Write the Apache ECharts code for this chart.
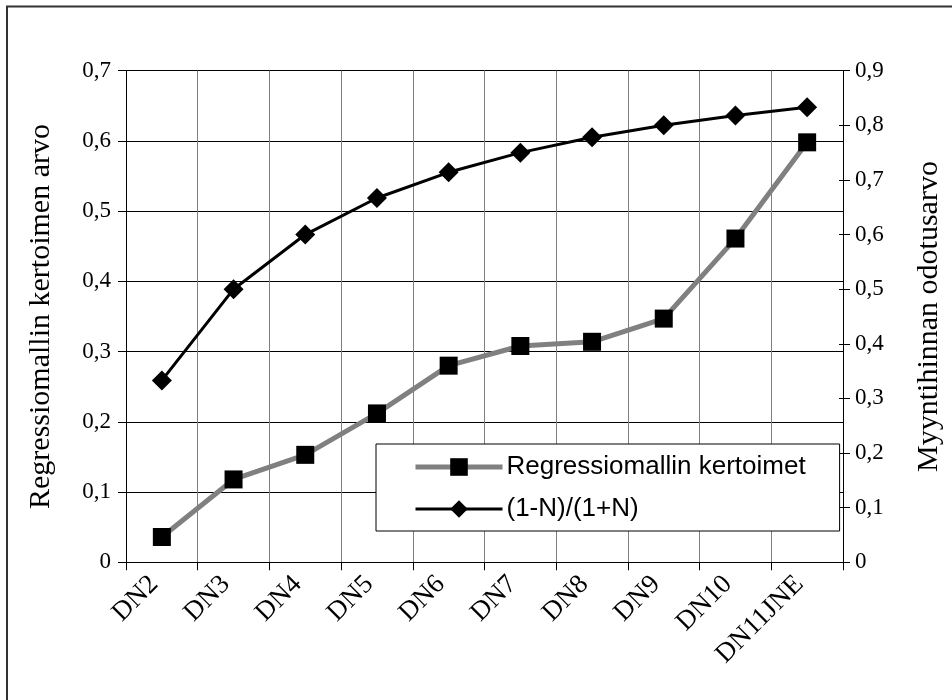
<!DOCTYPE html>
<html>
<head>
<meta charset="utf-8">
<script src="https://cdn.jsdelivr.net/npm/echarts@6/dist/echarts.min.js"></script>
<style>
  html, body { margin: 0; padding: 0; background: #fff; }
  #chart { width: 952px; height: 700px; }
</style>
</head>
<body>
<div id="chart"></div>
<script>
// Categories along the x axis
const categories = ['DN2', 'DN3', 'DN4', 'DN5', 'DN6', 'DN7', 'DN8', 'DN9', 'DN10', 'DN11JNE'];
// Regression coefficients (left axis)
const regressionValues = [0.036, 0.118, 0.153, 0.212, 0.280, 0.308, 0.314, 0.347, 0.461, 0.598];
// Expected sale price ratio (right axis)
const ratioValues = [0.333, 0.500, 0.600, 0.667, 0.714, 0.750, 0.778, 0.800, 0.818, 0.833];
// Axis ranges
const leftMax = 0.7;
const rightMax = 0.9;
const tickStep = 0.1;

const serif = 'Liberation Serif';
const sans = 'Liberation Sans';
const fmt = v => String(Math.round(v * 10) / 10).replace('.', ',');

const chart = echarts.init(document.getElementById('chart'), null, { renderer: 'canvas' });

chart.setOption({
  backgroundColor: '#fff',
  animation: false,
  graphic: [{
    type: 'polyline',
    shape: { points: [[7, 720], [7, 6.5], [970, 6.5]] },
    style: { stroke: '#333', lineWidth: 2, fill: null },
    silent: true
  }],
  grid: { left: 126, top: 70.7, right: 107.5, bottom: 137.7, containLabel: false },
  legend: {
    orient: 'vertical',
    left: 376,
    top: 444,
    padding: [10, 34, 9, 37],
    itemGap: 16,
    itemWidth: 87,
    itemHeight: 22,
    backgroundColor: '#fff',
    borderColor: '#000',
    borderWidth: 1,
    borderRadius: 0,
    textStyle: { fontFamily: sans, fontSize: 26, color: '#000', padding: [0, 0, 0, -1] },
    data: [
      { name: 'Regressiomallin kertoimet', lineStyle: { width: 5, color: '#808080' } },
      { name: '(1-N)/(1+N)', lineStyle: { width: 3, color: '#000' } }
    ]
  },
  xAxis: {
    type: 'category',
    data: categories,
    boundaryGap: true,
    axisLine: { lineStyle: { color: '#000', width: 1 } },
    axisTick: { show: true, length: 8, lineStyle: { color: '#000' } },
    splitLine: { show: true, lineStyle: { color: '#808080', width: 1 } },
    axisLabel: {
      rotate: 45,
      margin: 10,
      interval: 0,
      padding: [0, 11, 20, 0],
      fontFamily: serif,
      fontSize: 27,
      color: '#000'
    }
  },
  yAxis: [
    {
      type: 'value',
      position: 'left',
      min: 0,
      max: leftMax,
      interval: tickStep,
      name: 'Regressiomallin kertoimen arvo',
      nameLocation: 'middle',
      nameRotate: 90,
      nameGap: 70,
      nameTextStyle: { fontFamily: serif, fontSize: 30, color: '#000' },
      axisLine: { show: true, lineStyle: { color: '#000', width: 1 } },
      axisTick: { show: true, length: 8, lineStyle: { color: '#000' } },
      splitLine: { show: true, lineStyle: { color: '#000', width: 1 } },
      axisLabel: { fontFamily: serif, fontSize: 23, color: '#000', margin: 15, formatter: fmt }
    },
    {
      type: 'value',
      position: 'right',
      min: 0,
      max: rightMax,
      interval: tickStep,
      name: 'Myyntihinnan odotusarvo',
      nameLocation: 'middle',
      nameRotate: 90,
      nameGap: 71,
      nameTextStyle: { fontFamily: serif, fontSize: 30, color: '#000' },
      axisLine: { show: true, lineStyle: { color: '#000', width: 1 } },
      axisTick: { show: true, length: 7, lineStyle: { color: '#000' } },
      splitLine: { show: false },
      axisLabel: { fontFamily: serif, fontSize: 23, color: '#000', margin: 12, formatter: fmt }
    },
    {
      // inner half of the crossing ticks on the right axis
      type: 'value',
      position: 'right',
      min: 0,
      max: rightMax,
      interval: tickStep,
      axisLine: { show: false },
      axisTick: { show: true, inside: true, length: 4, lineStyle: { color: '#000' } },
      splitLine: { show: false },
      axisLabel: { show: false }
    }
  ],
  series: [
    {
      name: 'Regressiomallin kertoimet',
      type: 'line',
      yAxisIndex: 0,
      data: regressionValues,
      symbol: 'rect',
      symbolSize: 18,
      lineStyle: { color: '#808080', width: 5 },
      itemStyle: { color: '#000', borderWidth: 0 },
      emphasis: { disabled: true },
      z: 3
    },
    {
      name: '(1-N)/(1+N)',
      type: 'line',
      yAxisIndex: 1,
      data: ratioValues,
      symbol: 'diamond',
      symbolSize: 20,
      lineStyle: { color: '#000', width: 3 },
      itemStyle: { color: '#000', borderWidth: 0 },
      emphasis: { disabled: true },
      z: 3
    }
  ]
});
</script>
</body>
</html>
